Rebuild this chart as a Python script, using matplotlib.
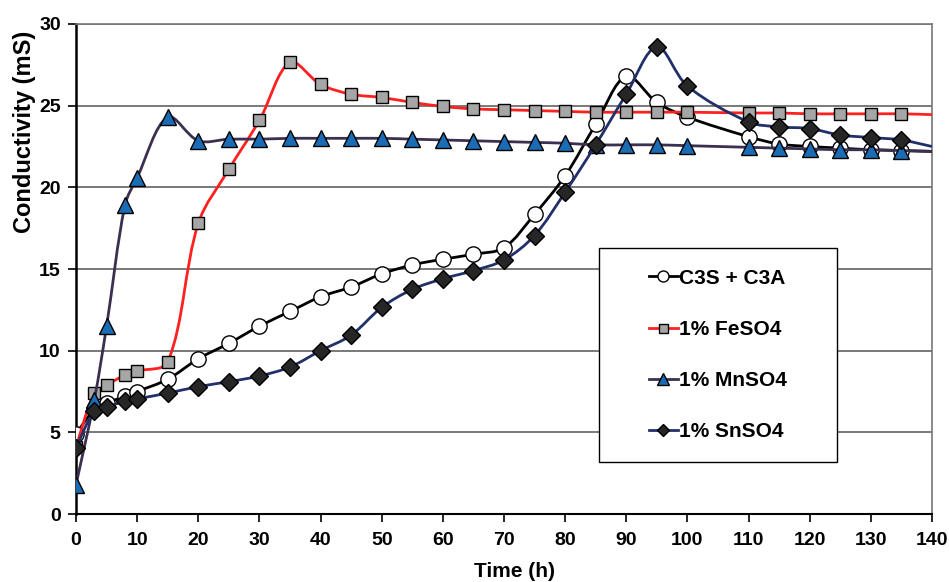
import numpy as np
import matplotlib
matplotlib.use('Agg')
import matplotlib.pyplot as plt
from matplotlib.path import Path
from matplotlib.patches import PathPatch, Rectangle
from matplotlib.lines import Line2D

plt.rcParams['font.family'] = ['Liberation Sans', 'DejaVu Sans']
plt.rcParams['font.weight'] = 'bold'

# hydration time (h); the 140 h value only continues the line
time_h = [0, 3, 5, 8, 10, 15, 20, 25, 30, 35, 40, 45, 50, 55, 60, 65, 70,
          75, 80, 85, 90, 95, 100, 110, 115, 120, 125, 130, 135, 140]

c3s_c3a = [4.9, 6.4, 6.8, 7.2, 7.5, 8.25, 9.5, 10.45, 11.5, 12.4, 13.3, 13.9,
           14.7, 15.25, 15.6, 15.9, 16.3, 18.35, 20.7, 23.85, 26.8, 25.2, 24.3,
           23.1, 22.65, 22.5, 22.4, 22.3, 22.25, 22.2]
feso4 = [4.1, 7.4, 7.9, 8.5, 8.75, 9.3, 17.8, 21.1, 24.1, 27.65, 26.3, 25.7,
         25.5, 25.2, 24.95, 24.8, 24.75, 24.7, 24.65, 24.6, 24.6, 24.6, 24.6,
         24.55, 24.55, 24.5, 24.5, 24.5, 24.5, 24.45]
mnso4 = [1.8, 7.0, 11.5, 18.9, 20.6, 24.3, 22.85, 22.95, 22.95, 23.0, 23.0,
         23.0, 23.0, 22.95, 22.9, 22.85, 22.8, 22.75, 22.7, 22.6, 22.6, 22.6,
         22.55, 22.45, 22.4, 22.35, 22.3, 22.3, 22.25, 22.2]
snso4 = [4.05, 6.3, 6.55, 6.9, 7.05, 7.4, 7.8, 8.1, 8.45, 9.0, 10.0, 10.95,
         12.65, 13.75, 14.4, 14.9, 15.55, 17.05, 19.7, 22.6, 25.7, 28.6, 26.2,
         24.0, 23.7, 23.6, 23.2, 23.05, 22.9, 22.5]

labels = ['C3S + C3A', '1% FeSO4', '1% MnSO4', '1% SnSO4']

# rough pixels per data unit, so the smoothing works on the drawn shape
SX, SY = 856 / 140.0, 490 / 30.0


def smooth_path(x, y):
    # spreadsheet-style smoothed line: cubic Bezier segments whose handles
    # are scaled by the neighbouring segment lengths
    p = np.column_stack([np.asarray(x) * SX, np.asarray(y) * SY]).astype(float)
    n = len(p)
    verts = [p[0]]
    codes = [Path.MOVETO]
    d = np.hypot(*np.diff(p, axis=0).T)
    for i in range(n - 1):
        p0 = p[i - 1] if i > 0 else p[i]
        p3 = p[i + 2] if i + 2 < n else p[i + 1]
        d01 = d[i - 1] if i > 0 else d[i]
        d23 = d[i + 1] if i + 2 < n else d[i]
        c1 = p[i] + (p[i + 1] - p0) * d[i] / (3.0 * (d01 + d[i]))
        c2 = p[i + 1] - (p3 - p[i]) * d[i] / (3.0 * (d[i] + d23))
        verts += [c1, c2, p[i + 1]]
        codes += [Path.CURVE4] * 3
    verts = np.array(verts) / [SX, SY]
    return Path(verts, codes)


fig = plt.figure(figsize=(9.49, 5.82), dpi=100)
ax = fig.add_axes([0.0801, 0.1168, 0.9019, 0.842])

styles = [
    dict(color='black', marker='o', mfc='white', ms=11),
    dict(color='#ff2020', marker='s', mfc='#a6a6a6', ms=9),
    dict(color='#3c3050', marker='^', mfc='#1a6db5', ms=12),
    dict(color='#22306a', marker='D', mfc='#262626', ms=9),
]
series = [c3s_c3a, feso4, mnso4, snso4]

handles = []
for k, (vals, st) in enumerate(zip(series, styles)):
    z = 3 + 2 * k
    ax.add_patch(PathPatch(smooth_path(time_h, vals), fill=False,
                           edgecolor=st['color'], lw=2.0, zorder=z))
    ax.plot(time_h[:-1], vals[:-1], linestyle='none', marker=st['marker'],
            mfc=st['mfc'], mec='black', mew=1.0, ms=st['ms'], zorder=z + 1)
    handles.append(Line2D([], [], color=st['color'], lw=2.0,
                          marker=st['marker'], mfc=st['mfc'], mec='black',
                          mew=1.0, ms=st['ms'] * 0.72))

ax.set_xlim(0, 140)
ax.set_ylim(0, 30)
ax.set_xticks(np.arange(0, 141, 10))
ax.set_yticks(np.arange(0, 31, 5))
ax.yaxis.grid(True, color='#555555', lw=1.1)
ax.set_axisbelow(True)

for side in ['top', 'right']:
    ax.spines[side].set_color('#777777')
    ax.spines[side].set_linewidth(1.2)
ax.spines['left'].set_linewidth(1.8)
ax.spines['bottom'].set_linewidth(1.5)
ax.tick_params(axis='both', direction='out', length=6, width=1.2,
               labelsize=14, colors='black')
ax.tick_params(axis='x', pad=7)
ax.tick_params(axis='y', pad=5)
for t in ax.get_xticklabels() + ax.get_yticklabels():
    t.set_fontweight('bold')

ax.set_xlabel('Time (h)', fontsize=15, fontweight='bold')
ax.set_ylabel('Conductivity (mS)', fontsize=17, fontweight='bold')
ax.xaxis.set_label_coords(0.512, -0.098)
ax.yaxis.set_label_coords(-0.047, 0.78)

# legend panel
ax.add_patch(Rectangle((0.611, 0.106), 0.278, 0.437, transform=ax.transAxes,
                       facecolor='white', edgecolor='black', lw=1.0,
                       zorder=20))
leg = ax.legend(handles, labels, loc='center', bbox_to_anchor=(0.75, 0.3245),
                frameon=False, fontsize=15, handlelength=1.35,
                handletextpad=0.05, labelspacing=1.55)
leg.set_zorder(21)
for t in leg.get_texts():
    t.set_fontweight('bold')

fig.savefig('out.png', dpi=100)
